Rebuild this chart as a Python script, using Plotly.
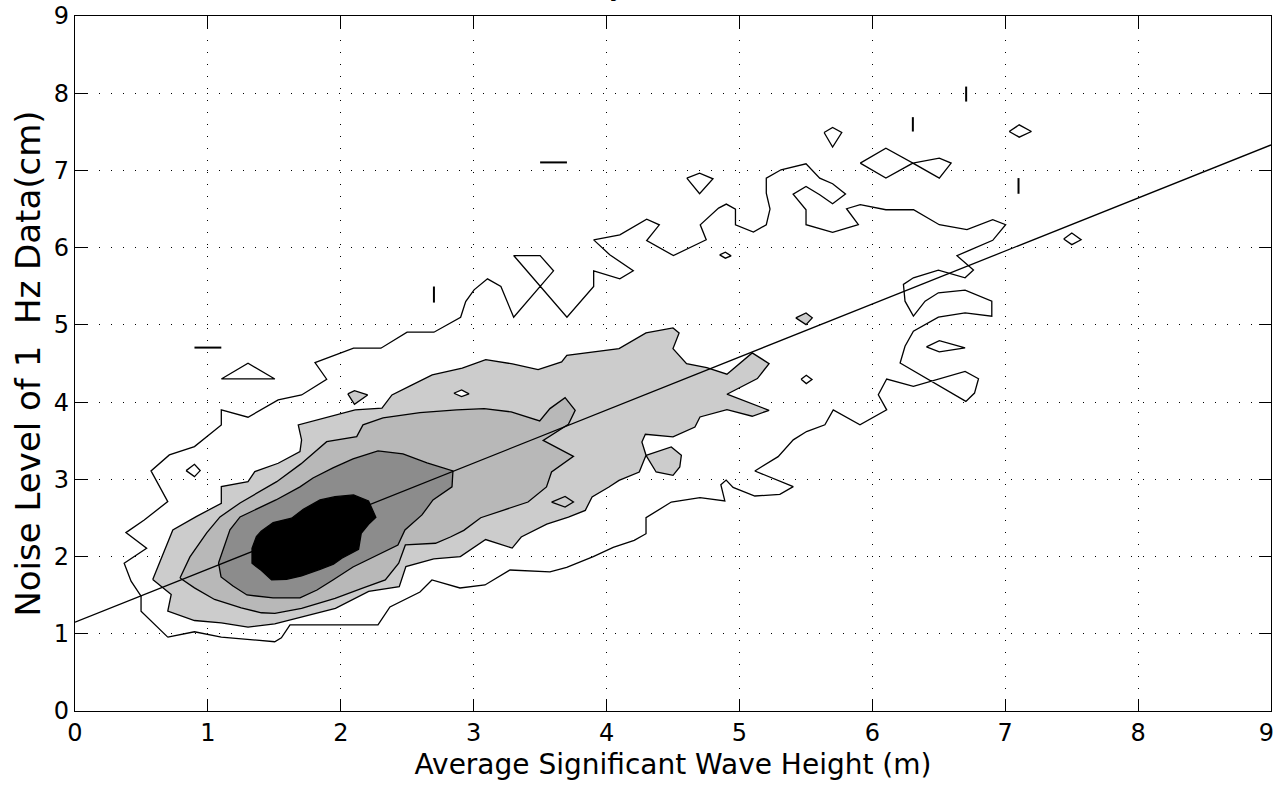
import plotly.graph_objects as go

# ---- contour levels (x: wave height in m, y: noise in cm) ----
# outermost contour line (no fill)
outer_x = [0.698, 0.899, 1.101, 1.302, 1.503, 1.553, 1.618, 2.280, 2.370, 2.596, 2.686, 2.897, 3.085, 3.273,
           3.574, 3.70, 3.90, 4.05, 4.208, 4.297, 4.297, 4.487, 4.703, 4.89, 4.86, 4.90, 4.952, 5.116, 5.304,
           5.405, 5.116, 5.291, 5.405, 5.505, 5.643, 5.706, 5.907, 6.108, 6.045, 6.108, 6.309, 6.698, 6.799,
           6.769, 6.704, 6.209, 6.246, 6.309, 6.497, 6.698, 6.899, 6.899, 6.698, 6.497, 6.397, 6.309, 6.246,
           6.234, 6.309, 6.497, 6.698, 6.761, 6.637, 6.712, 6.906, 7.003, 6.906, 6.712, 6.504, 6.310, 6.102,
           5.909, 5.806, 5.895, 5.701, 5.501, 5.501, 5.404, 5.501, 5.604, 5.701, 5.798, 5.701, 5.604, 5.501,
           5.313, 5.202, 5.202, 5.230, 5.202, 5.105, 4.970, 4.970, 4.901, 4.843, 4.705, 4.750, 4.503, 4.302,
           4.397, 4.302, 4.100, 3.903, 4.024, 4.201, 4.100, 3.903, 3.903, 3.702, 3.301, 3.500, 3.601, 3.301,
           3.205, 3.104, 3.003, 2.940, 2.902, 2.701, 2.499, 2.302, 2.096, 1.806, 1.894, 1.705, 1.529, 1.302,
           1.101, 1.101, 0.899, 0.710, 0.572, 0.698, 0.521, 0.383, 0.539, 0.370, 0.422, 0.497, 0.497, 0.573,
           0.698]
outer_y = [0.957, 1.026, 0.957, 0.927, 0.897, 0.948, 1.114, 1.114, 1.347, 1.541, 1.697, 1.593, 1.632, 1.826,
           1.801, 1.86, 2.00, 2.12, 2.209, 2.296, 2.503, 2.706, 2.762, 2.72, 2.93, 2.99, 2.896, 2.784, 2.805,
           2.905, 3.108, 3.294, 3.511, 3.619, 3.706, 3.900, 3.706, 3.900, 4.095, 4.299, 4.203, 4.398, 4.303,
           4.117, 4.009, 4.506, 4.723, 4.918, 5.100, 5.156, 5.113, 5.307, 5.450, 5.416, 5.307, 5.113, 5.307,
           5.524, 5.610, 5.710, 5.610, 5.710, 5.897, 5.953, 6.095, 6.297, 6.362, 6.233, 6.297, 6.491, 6.491,
           6.556, 6.504, 6.297, 6.198, 6.297, 6.491, 6.694, 6.793, 6.685, 6.569, 6.694, 6.828, 6.901, 7.086,
           7.009, 6.901, 6.707, 6.500, 6.297, 6.203, 6.296, 6.499, 6.564, 6.512, 6.296, 6.102, 5.898, 6.093,
           6.296, 6.369, 6.166, 6.101, 5.907, 5.700, 5.596, 5.700, 5.497, 5.099, 5.898, 5.898, 5.700, 5.099,
           5.497, 5.596, 5.454, 5.302, 5.099, 4.905, 4.905, 4.698, 4.698, 4.512, 4.296, 4.093, 4.028, 3.804,
           3.899, 3.705, 3.424, 3.316, 3.109, 2.712, 2.474, 2.310, 2.107, 1.913, 1.681, 1.487, 1.293, 1.164,
           0.957]

# second level (light grey)
lvl2_x = [0.585, 0.723, 0.736, 0.912, 1.101, 1.101, 1.302, 1.353, 1.529, 1.693, 1.705, 1.680, 1.907, 2.108,
          2.310, 2.385, 2.537, 2.688, 2.914, 3.091, 3.292, 3.485, 3.662, 3.701, 4.094, 4.297, 4.500, 4.546,
          4.500, 4.602, 4.754, 4.906, 5.096, 5.223, 5.135, 4.906, 5.223, 5.096, 4.906, 4.703, 4.665, 4.500,
          4.292, 4.266, 4.297, 4.246, 4.094, 4.018, 3.891, 3.840, 3.713, 3.55, 3.358, 3.29, 3.09, 2.90, 2.70,
          2.49, 2.44, 2.21, 1.96, 1.71, 1.503, 1.302, 1.101, 0.899, 0.698, 0.724]
lvl2_y = [1.703, 2.301, 2.345, 2.517, 2.690, 2.906, 2.971, 3.100, 3.208, 3.359, 3.510, 3.705, 3.813, 3.899,
          3.921, 4.093, 4.223, 4.352, 4.439, 4.551, 4.495, 4.421, 4.521, 4.607, 4.693, 4.896, 4.961, 4.896,
          4.693, 4.499, 4.447, 4.361, 4.637, 4.499, 4.305, 4.102, 3.894, 3.817, 3.903, 3.808, 3.678, 3.549,
          3.583, 3.484, 3.311, 3.095, 2.987, 2.901, 2.771, 2.598, 2.512, 2.42, 2.253, 2.11, 2.22, 2.00, 1.97,
          1.87, 1.61, 1.55, 1.33, 1.22, 1.129, 1.086, 1.142, 1.172, 1.293, 1.509]

# third level (mid grey)
lvl3_x = [0.790, 0.865, 0.991, 1.091, 1.242, 1.40, 1.518, 1.70, 1.894, 2.120, 2.167, 2.318, 2.596, 2.872,
          3.079, 3.282, 3.497, 3.574, 3.688, 3.764, 3.713, 3.523, 3.751, 3.586, 3.548, 3.409, 3.256, 3.053,
          2.926, 2.825, 2.713, 2.486, 2.436, 2.335, 2.159, 1.957, 1.705, 1.504, 1.402, 1.251, 1.050, 0.899]
lvl3_y = [1.723, 1.995, 2.306, 2.513, 2.694, 2.85, 2.970, 3.20, 3.488, 3.553, 3.705, 3.795, 3.864, 3.899,
          3.916, 3.873, 3.756, 3.916, 4.058, 3.894, 3.713, 3.505, 3.298, 3.095, 2.901, 2.706, 2.620, 2.503,
          2.339, 2.253, 2.172, 2.150, 1.913, 1.697, 1.589, 1.459, 1.330, 1.265, 1.272, 1.336, 1.444, 1.595]

# fourth level (dark grey)
lvl4_x = [1.080, 1.166, 1.242, 1.512, 1.693, 1.791, 1.941, 2.092, 2.280, 2.468, 2.649, 2.844, 2.837, 2.694,
          2.611, 2.483, 2.430, 2.310, 2.092, 1.941, 1.821, 1.693, 1.490, 1.294, 1.189, 1.099]
lvl4_y = [1.917, 2.345, 2.513, 2.733, 2.902, 3.018, 3.148, 3.264, 3.368, 3.329, 3.212, 3.109, 2.902, 2.733,
          2.539, 2.345, 2.150, 2.047, 1.865, 1.697, 1.567, 1.464, 1.464, 1.503, 1.619, 1.736]

# innermost level (black)
lvl5_x = [1.403, 1.491, 1.630, 1.718, 1.844, 1.957, 2.096, 2.209, 2.264, 2.209, 2.154, 2.134, 2.008, 1.945,
          1.844, 1.705, 1.592, 1.479, 1.403, 1.332, 1.332, 1.365]
lvl5_y = [2.332, 2.440, 2.496, 2.612, 2.733, 2.776, 2.798, 2.720, 2.509, 2.418, 2.301, 2.094, 1.978, 1.900,
          1.835, 1.749, 1.706, 1.697, 1.818, 1.913, 2.107, 2.258]

# small closed islands
tri_x, tri_y = [1.101, 1.302, 1.504], [4.300, 4.503, 4.300]
dia1_x, dia1_y = [0.836, 0.899, 0.942, 0.899], [3.113, 3.195, 3.113, 3.035]
dia2_x, dia2_y = [2.053, 2.103, 2.202, 2.103], [4.106, 4.149, 4.093, 3.972]
dia3_x, dia3_y = [2.851, 2.909, 2.965, 2.909], [4.115, 4.158, 4.106, 4.072]
dia4_x, dia4_y = [3.586, 3.688, 3.751, 3.688], [2.706, 2.779, 2.706, 2.641]
lobe_x, lobe_y = [4.297, 4.487, 4.563, 4.551, 4.500, 4.373], [3.311, 3.419, 3.311, 3.160, 3.052, 3.095]
dia5_x, dia5_y = [5.424, 5.501, 5.548, 5.501], [5.091, 5.155, 5.091, 5.004]
dia6_x, dia6_y = [5.464, 5.503, 5.546, 5.503], [4.296, 4.348, 4.292, 4.240]
quad_x, quad_y = [6.407, 6.504, 6.698, 6.504], [4.716, 4.797, 4.703, 4.651]
kite1_x, kite1_y = [4.604, 4.700, 4.801, 4.700], [6.901, 6.965, 6.892, 6.698]
dia7_x, dia7_y = [4.851, 4.894, 4.937, 4.894], [5.907, 5.942, 5.894, 5.864]
kite2_x, kite2_y = [5.637, 5.701, 5.770, 5.701], [7.491, 7.556, 7.491, 7.302]
dia8_x, dia8_y = [7.030, 7.105, 7.197, 7.105], [7.504, 7.591, 7.504, 7.431]
bow_x = [5.909, 6.102, 6.305, 6.504, 6.593, 6.504, 6.305, 6.102]
bow_y = [7.095, 7.289, 7.095, 7.160, 7.095, 6.901, 7.095, 6.901]
dia9_x, dia9_y = [7.440, 7.501, 7.571, 7.501], [6.112, 6.190, 6.103, 6.039]

# degenerate contour pieces (single strokes)
seg1_x, seg1_y = [0.899, 1.101], [4.706, 4.706]
seg2_x, seg2_y = [2.701, 2.701], [5.497, 5.289]
seg3_x, seg3_y = [3.500, 3.702], [7.104, 7.104]
seg4_x, seg4_y = [6.706, 6.706], [8.086, 7.892]
seg5_x, seg5_y = [6.305, 6.305], [7.690, 7.504]
seg6_x, seg6_y = [7.100, 7.100], [6.901, 6.698]

# least-squares fit line end points
fit_x = [0.0, 9.0]
fit_y = [1.15, 7.33]

x_ticks = [0, 1, 2, 3, 4, 5, 6, 7, 8]
x_last_tick = [9]
y_ticks = [0, 1, 2, 3, 4, 5, 6, 7, 8, 9]

WHITE = "#ffffff"
LIGHT = "#cccccc"
MID = "#b8b8b8"
DARK = "#8c8c8c"
BLACK = "#000000"
LW = 1.3

fig = go.Figure()


def poly(xs, ys, fill=None, width=LW):
    xs = list(xs) + [xs[0]]
    ys = list(ys) + [ys[0]]
    fig.add_trace(go.Scatter(
        x=xs, y=ys, mode="lines",
        fill="toself" if fill else None,
        fillcolor=fill,
        line=dict(color="black", width=width),
        hoverinfo="skip", showlegend=False))


def stroke(xs, ys, width=2.0):
    fig.add_trace(go.Scatter(x=xs, y=ys, mode="lines",
                             line=dict(color="black", width=width),
                             hoverinfo="skip", showlegend=False))


poly(outer_x, outer_y)
poly(lvl2_x, lvl2_y, LIGHT)
poly(lvl3_x, lvl3_y, MID)
poly(lvl4_x, lvl4_y, DARK)
poly(lvl5_x, lvl5_y, BLACK)

poly(tri_x, tri_y, WHITE)
poly(dia1_x, dia1_y, WHITE)
poly(dia2_x, dia2_y, LIGHT)
poly(dia3_x, dia3_y, WHITE)
poly(dia4_x, dia4_y, LIGHT)
poly(lobe_x, lobe_y, LIGHT)
poly(dia5_x, dia5_y, LIGHT)
poly(dia6_x, dia6_y, WHITE)
poly(quad_x, quad_y, WHITE)
poly(kite1_x, kite1_y, WHITE)
poly(dia7_x, dia7_y, WHITE)
poly(kite2_x, kite2_y, WHITE)
poly(dia8_x, dia8_y, WHITE)
poly(bow_x, bow_y, WHITE)
poly(dia9_x, dia9_y, WHITE)

for sx, sy in [(seg1_x, seg1_y), (seg2_x, seg2_y), (seg3_x, seg3_y),
               (seg4_x, seg4_y), (seg5_x, seg5_y), (seg6_x, seg6_y)]:
    stroke(sx, sy)

fig.add_trace(go.Scatter(x=fit_x, y=fit_y, mode="lines",
                         line=dict(color="black", width=1.3),
                         hoverinfo="skip", showlegend=False))

# companion x axis carrying only the right-most tick label, set just left of its tick
fig.add_trace(go.Scatter(x=fit_x, y=fit_y, xaxis="x2", mode="lines",
                         line=dict(color="rgba(0,0,0,0)", width=0),
                         hoverinfo="skip", showlegend=False))

FONT = "DejaVu Sans"
TICKFONT = dict(family=FONT, size=24, color="black")
axis_common = dict(
    range=[0, 9], showline=True, linecolor="black", linewidth=1.4,
    mirror="ticks", ticks="inside", ticklen=12, tickwidth=1.2, tickcolor="black",
    showgrid=True, gridcolor="black", gridwidth=1, griddash="1px,11px",
    zeroline=False, tickfont=TICKFONT, automargin=False,
)

fig.update_layout(
    width=1274, height=789,
    margin=dict(l=75, r=3, t=16, b=78),
    paper_bgcolor="white", plot_bgcolor="white",
    showlegend=False,
    xaxis=dict(axis_common, tickvals=x_ticks,
               title=dict(text="Average Significant Wave Height (m)",
                          font=dict(family=FONT, size=28, color="black"), standoff=8)),
    xaxis2=dict(range=[0, 9], overlaying="x", anchor="y", side="bottom",
                tickvals=x_last_tick, ticks="", showgrid=False, showline=False,
                zeroline=False, tickfont=TICKFONT, automargin=False,
                ticklabelposition="outside left", ticklabelstandoff=5,
                ticklabelshift=3),
    yaxis=dict(axis_common, tickvals=y_ticks,
               title=dict(text="Noise Level of 1\u00a0\u00a0Hz Data(cm)",
                          font=dict(family=FONT, size=34, color="black"), standoff=2)),
    annotations=[dict(text="Density Contours", xref="paper", yref="paper",
                      x=0.472, y=1.0173, xanchor="center", yanchor="bottom",
                      showarrow=False, font=dict(family=FONT, size=28, color="black"))],
)

fig.write_html("out.html")
